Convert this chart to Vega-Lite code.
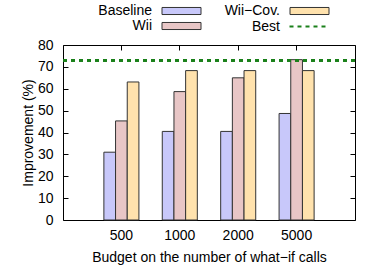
{
  "$schema": "https://vega.github.io/schema/vega-lite/v6.json",
  "width": 292,
  "height": 175,
  "autosize": "none",
  "padding": {"left": 63, "top": 45, "right": 27, "bottom": 48},
  "config": {
    "font": "Liberation Sans",
    "view": {"stroke": "#000", "strokeWidth": 1},
    "axis": {"grid": false, "domain": false, "labelFont": "Liberation Sans", "titleFont": "Liberation Sans", "labelFontSize": 14, "titleFontSize": 14, "titleFontWeight": "normal", "labelColor": "#000", "titleColor": "#000", "tickColor": "#000", "tickSize": -5, "tickWidth": 1},
    "legend": {"labelFont": "Liberation Sans", "labelFontSize": 14, "labelColor": "#000", "labelAlign": "right", "labelOffset": -37.5, "symbolSize": 225}
  },
  "data": {"values": [
    {"budget": "500", "method": "Baseline", "value": 31},
    {"budget": "500", "method": "Wii", "value": 45.3},
    {"budget": "500", "method": "Wii−Cov.", "value": 63.1},
    {"budget": "1000", "method": "Baseline", "value": 40.5},
    {"budget": "1000", "method": "Wii", "value": 58.7},
    {"budget": "1000", "method": "Wii−Cov.", "value": 68.3},
    {"budget": "2000", "method": "Baseline", "value": 40.5},
    {"budget": "2000", "method": "Wii", "value": 65},
    {"budget": "2000", "method": "Wii−Cov.", "value": 68.3},
    {"budget": "5000", "method": "Baseline", "value": 48.7},
    {"budget": "5000", "method": "Wii", "value": 73.3},
    {"budget": "5000", "method": "Wii−Cov.", "value": 68.3}
  ]},
  "layer": [
    {
      "mark": {"type": "bar", "stroke": "#333", "strokeWidth": 1},
      "encoding": {
        "x": {"field": "budget", "type": "nominal", "sort": ["500", "1000", "2000", "5000"],
          "scale": {"paddingInner": 0, "paddingOuter": 0.5},
          "axis": {"title": "Budget on the number of what−if calls", "labelAngle": 0, "labelPadding": 13, "titlePadding": 8}},
        "xOffset": {"field": "method", "type": "nominal", "scale": {"domain": ["Baseline", "Wii", "Wii−Cov."], "paddingInner": 0, "paddingOuter": 1}},
        "y": {"field": "value", "type": "quantitative", "scale": {"domain": [0, 80], "nice": false},
          "axis": {"title": "Improvement (%)", "values": [0, 10, 20, 30, 40, 50, 60, 70, 80], "labelPadding": 15, "titlePadding": 2}},
        "color": {"field": "method", "type": "nominal",
          "scale": {"domain": ["Baseline", "Wii−Cov.", "Wii"], "range": ["#c8c8fa", "#ffe2ad", "#e8c6c6"]},
          "legend": {
            "title": null, "orient": "none", "legendX": 110.5, "legendY": -42, "columns": 2, "direction": "horizontal",
            "columnPadding": 21, "rowPadding": 0,
            "symbolStrokeWidth": 1,
            "symbolType": "M-2.6,-0.47L2.6,-0.47L2.6,0.47L-2.6,0.47Z",
            "encode": {"symbols": {
              "stroke": {"value": {"expr": "datum.label === 'Baseline' ? '#4040c0' : datum.label === 'Wii' ? '#903838' : '#c08a20'"}},
              "opacity": {"value": 1}
            }}
          }}
      }
    },
    {
      "mark": {"type": "bar", "opacity": 0},
      "encoding": {
        "x": {"field": "budget", "type": "nominal", "sort": ["500", "1000", "2000", "5000"],
          "axis": {"orient": "top", "labels": false, "title": null}},
        "xOffset": {"field": "method", "type": "nominal"},
        "y": {"field": "value", "type": "quantitative",
          "axis": {"orient": "right", "labels": false, "title": null, "values": [0, 10, 20, 30, 40, 50, 60, 70, 80]}}
      }
    },
    {
      "mark": {"type": "rule", "strokeWidth": 2, "color": "#1a801a"},
      "encoding": {
        "y": {"datum": 73, "axis": null},
        "strokeDash": {"datum": "Best", "scale": {"domain": ["Best"], "range": [[4, 4]]},
          "legend": {"title": null, "orient": "none", "legendX": 237.5, "legendY": -27,
            "symbolType": "M-2.6,0L2.6,0", "symbolStrokeColor": "#1a801a", "symbolStrokeWidth": 2, "symbolDash": [4, 4]}}
      }
    }
  ],
  "resolve": {"axis": {"x": "independent", "y": "independent"}}
}
